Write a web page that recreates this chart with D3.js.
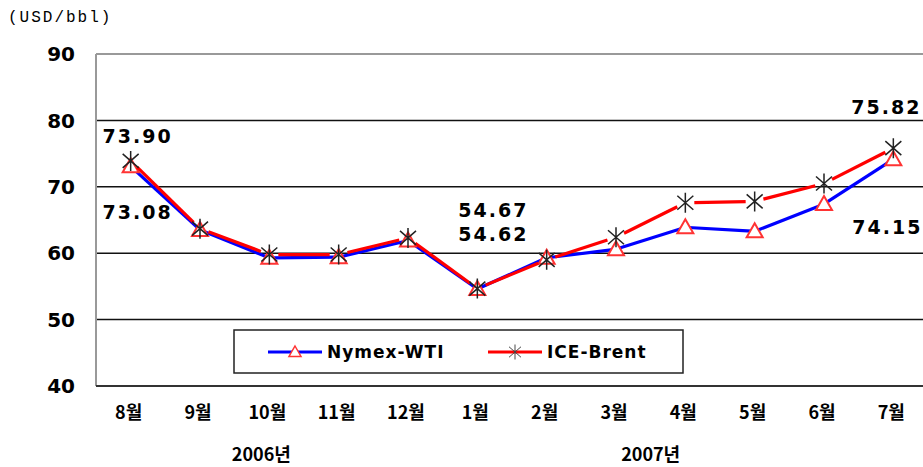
<!DOCTYPE html>
<html>
<head>
<meta charset="utf-8">
<script src="https://cdn.jsdelivr.net/npm/d3@7"></script>
<style>
  body { margin: 0; background: #fff; }
  svg { display: block; }
</style>
</head>
<body>
<svg width="923" height="467"></svg>
<script>
// data
var months = ['8월', '9월', '10월', '11월', '12월', '1월', '2월', '3월', '4월', '5월', '6월', '7월']
var years = ['2006년', '2007년']
var wti = [73.08, 63.5, 59.3, 59.4, 61.9, 54.62, 59.3, 60.6, 63.9, 63.3, 67.4, 74.15]
var brent = [73.90, 63.7, 59.8, 59.8, 62.3, 54.67, 59.0, 62.4, 67.6, 67.8, 70.5, 75.82]
var yTicks = [40, 50, 60, 70, 80, 90]

var svg = d3.select('svg')

// plot area
var plotLeft = 96, plotRight = 928, plotTop = 54, plotBottom = 386

var x = d3.scaleBand().domain(months).range([plotLeft, plotRight])
var y = d3.scaleLinear().domain([40, 90]).range([plotBottom, plotTop])
var cx = function (m) { return x(m) + x.bandwidth() / 2 }

var numFont = '"DejaVu Sans", sans-serif'
var krFont = '"Noto Sans CJK KR", sans-serif'

// unit
svg.append('text')
    .attr('x', 8).attr('y', 22)
    .style('font-family', '"Liberation Mono", monospace')
    .style('font-size', '16px')
    .style('letter-spacing', '2px')
    .text('(USD/bbl)')

// gridlines
svg.selectAll('.grid')
    .data(yTicks.filter(function (d) { return d > 40 && d < 90 }))
    .enter().append('line')
    .attr('x1', plotLeft).attr('x2', 923)
    .attr('y1', function (d) { return y(d) }).attr('y2', function (d) { return y(d) })
    .attr('stroke', '#111').attr('stroke-width', 1.5)

// frame
svg.append('line').attr('x1', plotLeft).attr('x2', 923).attr('y1', y(90)).attr('y2', y(90))
    .attr('stroke', '#999').attr('stroke-width', 2)
svg.append('line').attr('x1', plotLeft).attr('x2', plotLeft).attr('y1', y(90)).attr('y2', y(40))
    .attr('stroke', '#999').attr('stroke-width', 2)
svg.append('line').attr('x1', plotLeft).attr('x2', 923).attr('y1', y(40)).attr('y2', y(40))
    .attr('stroke', '#333').attr('stroke-width', 2)

// y axis labels
svg.selectAll('.ytick')
    .data(yTicks)
    .enter().append('text')
    .attr('x', 75).attr('y', function (d) { return y(d) })
    .attr('dy', '0.36em')
    .style('text-anchor', 'end')
    .style('font-family', numFont)
    .style('font-weight', 'bold')
    .style('font-size', '20px')
    .text(function (d) { return d })

// month labels
svg.selectAll('.xtick')
    .data(months)
    .enter().append('text')
    .attr('x', function (d) { return cx(d) - 2 })
    .attr('y', 419)
    .style('text-anchor', 'middle')
    .style('font-family', krFont)
    .style('font-weight', 'bold')
    .style('font-size', '18px')
    .text(function (d) { return d })

// year labels
svg.selectAll('.year')
    .data(years)
    .enter().append('text')
    .attr('x', function (d, i) { return i == 0 ? (cx('9월') + cx('11월')) / 2 - 8 : (cx('3월') + cx('4월')) / 2 })
    .attr('y', 461)
    .style('text-anchor', 'middle')
    .style('font-family', krFont)
    .style('font-weight', 'bold')
    .style('font-size', '18px')
    .text(function (d) { return d })

// trimmed segments so the line stops short of the marker
function segments(vals, gap) {
    var out = []
    for (var i = 0; i < vals.length - 1; i++) {
        var x1 = cx(months[i]), y1 = y(vals[i]), x2 = cx(months[i + 1]), y2 = y(vals[i + 1])
        var len = Math.sqrt((x2 - x1) * (x2 - x1) + (y2 - y1) * (y2 - y1))
        var ux = (x2 - x1) / len, uy = (y2 - y1) / len
        out.push([x1 + ux * gap, y1 + uy * gap, x2 - ux * gap, y2 - uy * gap])
    }
    return out
}

function drawLine(vals, color, gap) {
    svg.append('g').selectAll('line')
        .data(segments(vals, gap))
        .enter().append('line')
        .attr('x1', function (d) { return d[0] }).attr('y1', function (d) { return d[1] })
        .attr('x2', function (d) { return d[2] }).attr('y2', function (d) { return d[3] })
        .attr('stroke', color).attr('stroke-width', 3.2)
}

var triangle = 'M0,-8L8,6L-8,6Z'
var star = 'M0,-10L0,10M-8,-7L8,7M-8,7L8,-7'

drawLine(wti, '#0000ff', 3)

// WTI markers
svg.append('g').selectAll('path')
    .data(wti)
    .enter().append('path')
    .attr('transform', function (d, i) { return 'translate(' + cx(months[i]) + ',' + y(d) + ')' })
    .attr('d', triangle)
    .attr('fill', '#fff').attr('stroke', '#ff3333').attr('stroke-width', 2)

drawLine(brent, '#ff0000', 9)

// Brent markers
svg.append('g').selectAll('path')
    .data(brent)
    .enter().append('path')
    .attr('transform', function (d, i) { return 'translate(' + cx(months[i]) + ',' + y(d) + ')' })
    .attr('d', star)
    .attr('fill', 'none').attr('stroke', '#222').attr('stroke-width', 1.5)

// value labels
var labels = [
    { v: brent[0], m: 0, dx: 7, dy: -25 },
    { v: wti[0], m: 0, dx: 7, dy: 46 },
    { v: brent[5], m: 5, dx: 16, dy: -78 },
    { v: wti[5], m: 5, dx: 16, dy: -55 },
    { v: brent[11], m: 11, dx: -7, dy: -41 },
    { v: wti[11], m: 11, dx: -6, dy: 68 }
]
svg.selectAll('.vlabel')
    .data(labels)
    .enter().append('text')
    .attr('x', function (d) { return cx(months[d.m]) + d.dx })
    .attr('y', function (d) { return y(d.v) + d.dy })
    .attr('dy', '0.36em')
    .style('text-anchor', 'middle')
    .style('font-family', numFont)
    .style('font-weight', 'bold')
    .style('font-size', '19px')
    .style('letter-spacing', '2px')
    .text(function (d) { return d.v.toFixed(2) })

// legend
var legend = svg.append('g')
legend.append('rect')
    .attr('x', 234).attr('y', 330).attr('width', 449).attr('height', 43)
    .attr('fill', '#fff').attr('stroke', '#222').attr('stroke-width', 1.5)

var items = [
    { name: 'Nymex-WTI', color: '#0000ff', mark: triangle, fill: '#fff', stroke: '#ff3333', sw: 2, x: 268 },
    { name: 'ICE-Brent', color: '#ff0000', mark: star, fill: 'none', stroke: '#444', sw: 1.3, x: 488 }
]
var item = legend.selectAll('.item')
    .data(items)
    .enter().append('g')
    .attr('transform', function (d) { return 'translate(' + d.x + ',352)' })
item.append('line')
    .attr('x1', 0).attr('x2', 54)
    .attr('stroke', function (d) { return d.color }).attr('stroke-width', 3)
item.append('path')
    .attr('transform', 'translate(27,0) scale(0.75)')
    .attr('d', function (d) { return d.mark })
    .attr('fill', function (d) { return d.fill })
    .attr('stroke', function (d) { return d.stroke })
    .attr('stroke-width', function (d) { return d.sw })
item.append('text')
    .attr('x', 59).attr('dy', '0.36em')
    .style('font-family', numFont)
    .style('font-weight', 'bold')
    .style('font-size', '17px')
    .style('letter-spacing', '1px')
    .text(function (d) { return d.name })
</script>
</body>
</html>
